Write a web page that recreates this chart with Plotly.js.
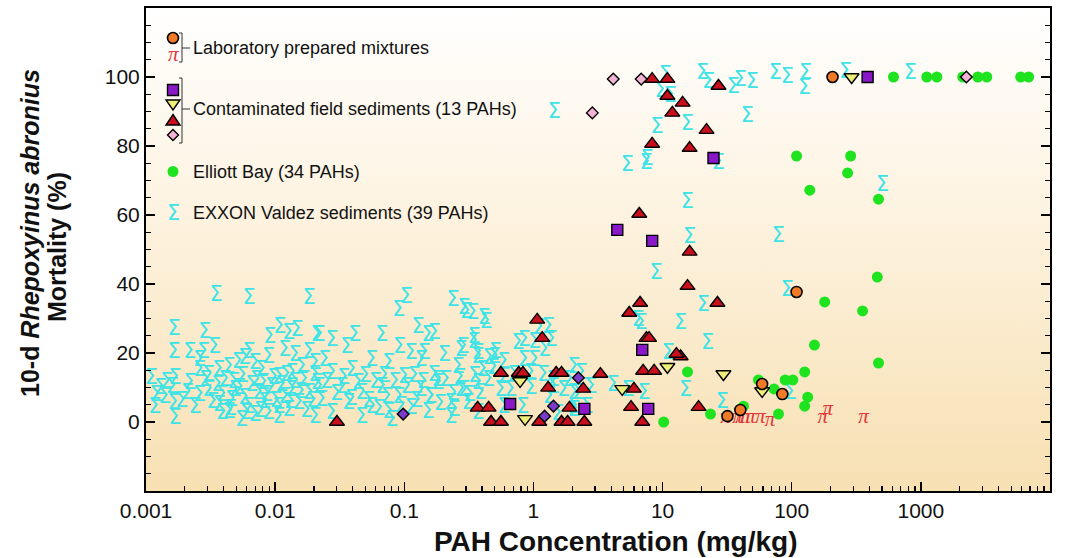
<!DOCTYPE html>
<html>
<head>
<meta charset="utf-8">
<script src="https://cdn.plot.ly/plotly-3.0.1.min.js"></script>
<style>html,body{margin:0;padding:0;background:#fff;}#chart{width:1079px;height:558px;}</style>
</head>
<body>
<div id="chart"></div>
<script>
// ---------------- DATA ----------------
// EXXON Valdez sediments (39 PAHs) - sigma symbols
const exxonX = [
 0.0035,0.0063,0.0183,0.00165,0.00286,0.0109,0.0128,0.0148,0.0091,0.0219,
 0.00165,0.00219,0.0028,0.0034,0.0063,0.0089,0.0119,0.0143,0.0183,0.0011,
 0.00145,0.00168,0.0026,0.0026,0.00307,0.00366,0.0044,0.0052,0.0058,0.0070,
 0.0079,0.0107,0.0135,0.0162,0.0204,0.0012,0.0014,0.00165,0.0021,0.0026,
 0.00307,0.0039,0.0037,0.0046,0.0049,0.0058,0.0063,0.0075,0.0083,0.0094,
 0.0107,0.0119,0.0135,0.0153,0.0183,0.0211,0.00117,0.00168,0.0039,0.0044,
 0.0055,0.0070,0.0089,0.0107,0.0128,
 0.0013,0.0016,0.0019,0.0022,0.0024,0.0029,0.0033,0.0036,0.0041,0.0045,
 0.0048,0.0053,0.0056,0.006,0.0066,0.0072,0.0077,0.0081,0.0086,0.0098,
 0.0102,0.0113,0.0122,0.0131,0.0142,0.0158,0.0168,0.0175,0.0195,0.0203,
 0.104,0.091,0.239,0.302,0.43,0.128,0.153,0.0211,0.0276,0.0415,
 0.067,0.036,0.056,0.092,0.113,0.204,0.286,0.347,0.373,0.0243,
 0.076,0.135,0.407,0.0276,0.0394,0.1,0.261,0.0219,0.033,0.047,
 0.067,0.091,0.135,0.183,0.291,0.373,0.023,0.037,0.056,0.076,
 0.113,0.153,0.23,0.312,0.080,0.047,0.0276,0.0204,0.23,0.373,
 0.025,0.03,0.034,0.039,0.044,0.05,0.053,0.06,0.064,0.07,
 0.074,0.085,0.095,0.105,0.12,0.125,0.14,0.16,0.17,0.19,
 0.21,0.24,0.27,0.32,0.35,
 0.291,0.34,0.415,0.347,0.276,0.373,0.453,0.51,0.49,0.59,
 0.71,0.85,1.02,1.11,1.31,0.67,0.83,0.96,1.43,1.71,
 2.07,2.35,2.07,1.33,0.59,0.39,0.276,0.243,0.183,0.16,
 0.143,0.171,0.5,0.76,0.85,1.02,1.22,1.38,2.07,1.9,
 1.43,2.23,2.07,0.56,0.59,0.45,5.42,4.15,6.47,7.2,
 2.6,2.8,1.55,1.2,0.95,
 10.5,9.75,11.5,20.4,22.7,35.4,40.1,49.6,74.7,92.5,
 128,126,45.4,9.08,15.6,7.6,5.33,261,831,505,
 15.6,16.2,78.8,8.92,92.5,20.7,13.8,6.83,22.3,11.1,
 15.1,29.1,97.5,1.45,27.1,7.47
];
const exxonY = [
 36.5,35.7,35.7,26.7,25.8,27.2,25.5,26.4,24.3,24.9,
 20,20,20,21.4,20,18.6,20.6,19.1,20,12.5,
 11.3,12.5,17.7,14.8,13.3,14.8,15.7,17.1,18.3,16.8,
 14.8,12.8,13.9,15.7,16.8,7.5,7,5.2,8.1,7.5,
 9,7.5,4.6,6.1,9,6.7,4.1,8.1,5.5,9.9,
 4.1,7,9,5.2,8.1,11,4.1,0.9,2.3,2.6,
 0.3,1.7,2.3,1.2,3.2,
 9.5,10,6,11,4,12,5.5,10.5,12,3.5,
 11.5,9.5,13,2.5,10.5,12,3,11,7.5,12.5,
 6,10.5,13.5,5.5,11.5,8.5,12,3,6,13.5,
 35.9,32.2,35.1,31.6,28.7,27.2,24.9,24.9,23.5,24.9,
 24.9,21.4,17.7,21.4,19.7,19.1,21.4,22.9,18.6,17.7,
 16.8,17.7,14.8,13.9,14.8,12.8,15.7,9.9,9.9,8.1,
 9.9,7,9,11,9,11,6.1,5.2,4.1,2.6,
 3.8,2.6,5.2,5.2,0.3,1.2,2.3,1.2,1.2,2.3,
 11.5,8,12.5,6.5,11,13,6,11.5,3.5,13,
 7,11.5,4.5,10,13,6,11.5,7,13.5,5,
 12,8,12.5,7.5,13,
 32.8,31.3,29.9,24.3,20.6,19.7,18.3,20,15.4,17.1,
 13.3,17.7,22.9,27,27.2,9,4.1,9.6,11.9,9,
 8.1,13.9,3.2,7,4.1,8.1,9,3.2,11.9,7,
 19.7,25.5,18.6,22.6,23.5,17.7,20.6,23.5,15.7,11.9,
 9.9,8.1,4.1,9,12.8,11.9,9,10.4,29.3,8.1,
 4,10,2,13.5,14,
 100.3,95.7,94.2,100.9,98.3,96.8,98.8,98.3,100.9,99.7,
 100.9,96.5,88.4,85.2,86.1,75.9,74.2,101.2,100.9,68.4,
 63.5,53.3,53.6,42.9,38,33.6,28.4,28.4,22.6,19.7,
 9.0,5.5,8.1,89.6,74.8,74.8
];

// Elliott Bay (34 PAHs)
const elliottX = [614,1112,1330,2110,2760,3240,5930,6830,109,286,
 271,138,470,460,180,354,150,470,15.6,126,
 55.2,89,102,73,133,126,42.3,79,23.5,10.2];
const elliottY = [100,100,100,100,100,100,100,100,77.1,77.1,
 72.2,67.2,64.6,42,34.8,32.2,22.3,17.1,14.5,14.5,
 12.2,12.2,12.2,9.6,7.2,4.6,4.6,2.3,2.3,0];

// Laboratory prepared mixtures
const labCircleX = [207,109,84.6,31.8,59,40];
const labCircleY = [100,37.7,8.1,1.7,11,3.5];
const labPiX = [30.7,38,40,43.8,47.9,57,68,174,190,360];
const labPiY = [1.2,1.2,1.2,1.2,1.2,1.2,0.3,1.2,3.5,1.2];

// Contaminated field sediments (13 PAHs)
const fieldSquareX = [387,24.8,4.46,8.31,6.96,7.74,0.66,2.48];
const fieldSquareY = [100,76.5,55.7,52.5,20.9,3.8,5.2,3.8];
const fieldTriDownX = [291,29.6,59,10.9,4.87,0.861,0.788];
const fieldTriDownY = [100,13.9,9.0,16,9.6,0.9,11.9];
const fieldTriUpX = [8.3,10.9,10.9,14.3,11.9,27.1,8.3,16.2,21.9,16.2,
 15.6,26.6,19,13.8,6.6,6.7,5.52,7.5,7.86,12.8,
 7.07,8.6,6.0,5.7,6.96,1.07,1.17,3.3,1.5,1.65,
 0.77,0.83,0.56,2.43,1.3,1.9,0.37,0.45,0.47,0.56,
 1.11,1.65,1.84,2.48,0.0301];
const fieldTriUpY = [99.4,99.4,94.5,92.5,89.6,97.4,80.6,79.4,84.6,49.3,
 39.4,34.5,4.3,19,60.3,34.5,31.6,24.3,24.3,19.7,
 14.8,14.8,9.6,4.3,0,29.6,24.3,13.9,14.2,14.2,
 14.2,14.2,14.2,9.6,9.9,4.1,4.1,4.1,0,0,
 0,0,0,0,0];
const fieldDiamondX = [4.15,6.83,2.86,2250];
const fieldDiamondY = [99.4,99.4,89.6,100];
const fieldVioletX = [2.23,1.43,1.22,0.098];
const fieldVioletY = [12.8,4.6,1.7,2.3];

const xTickVals = [0.001,0.01,0.1,1,10,100,1000,10000];
const xTickText = ['0.001','0.01','0.1','1','10','100','1000','10000'];
const yTickVals = [0,20,40,60,80,100];

const legendLabels = ['Laboratory prepared mixtures','Contaminated field sediments (13 PAHs)',
 'Elliott Bay (34 PAHs)','EXXON Valdez sediments (39 PAHs)'];

// ---------------- STYLE ----------------
const C = {
  cyan:'#3ee3e6', red:'#e2363a', green:'#1fe31f', orange:'#f07a28',
  tri:'#c8101c', square:'#8a18c8', triDown:'#eeee78', pink:'#f2b4d4', violet:'#7a3cc8'
};
const FONT = 'Arial, "Liberation Sans", sans-serif';
const SIGFONT = {family:'"DejaVu Sans", sans-serif', size:21, color:C.cyan};
const PIFONT = {family:'"Liberation Serif", "DejaVu Serif", serif', size:21, style:'italic', color:C.red};

const minorX = [];
for (let e=-3; e<4; e++) for (let m=2; m<=9; m++) minorX.push(m*Math.pow(10,e));

const edge = {color:'#000', width:1.4};
const traces = [
  {x:exxonX, y:exxonY, mode:'text', text:exxonX.map(()=> 'Σ'), textposition:'middle center',
   textfont:SIGFONT, hoverinfo:'skip'},
  {x:labPiX, y:labPiY, mode:'text', text:labPiX.map(()=> 'π'), textposition:'middle center',
   textfont:PIFONT, hoverinfo:'skip'},
  {x:elliottX, y:elliottY, mode:'markers', marker:{symbol:'circle', size:11, color:C.green}},
  {x:fieldTriUpX, y:fieldTriUpY, mode:'markers', marker:{symbol:'triangle-up', size:13, color:C.tri, line:edge}},
  {x:fieldVioletX, y:fieldVioletY, mode:'markers', marker:{symbol:'diamond', size:9, color:C.violet, line:edge}},
  {x:fieldSquareX, y:fieldSquareY, mode:'markers', marker:{symbol:'square', size:11, color:C.square, line:edge}},
  {x:fieldTriDownX, y:fieldTriDownY, mode:'markers', marker:{symbol:'triangle-down', size:13, color:C.triDown, line:edge}},
  {x:fieldDiamondX, y:fieldDiamondY, mode:'markers', marker:{symbol:'diamond', size:9, color:C.pink, line:edge}},
  {x:labCircleX, y:labCircleY, mode:'markers', marker:{symbol:'circle', size:11, color:C.orange, line:{color:'#000', width:1.6}}}
];

// plot frame in pixels
const L=146, R=1050, T=8, B=491;
const px = x => (x-L)/(R-L);
const py = y => (B-y)/(B-T);

const grad = '<svg xmlns="http://www.w3.org/2000/svg" width="100" height="100" viewBox="0 0 100 100" preserveAspectRatio="none">'+
 '<defs><linearGradient id="g" x1="0" y1="0" x2="0" y2="1">'+
 '<stop offset="0" stop-color="#ffffff"/><stop offset="0.45" stop-color="#fdf2de"/><stop offset="1" stop-color="#f7e0b2"/>'+
 '</linearGradient></defs><rect width="100" height="100" fill="url(#g)"/></svg>';

const shapes = [];
const line = (x0,y0,x1,y1) => shapes.push({type:'line', xref:'paper', yref:'paper',
  x0:px(x0), y0:py(y0), x1:px(x1), y1:py(y1), line:{color:'#333', width:1}});
const path = (pts, fill, lw) => shapes.push({type:'path', xref:'paper', yref:'paper',
  path: 'M'+pts.map(p=>px(p[0])+','+py(p[1])).join(' L')+' Z', fillcolor:fill, line:{color:'#000', width:lw===undefined?1.4:lw}});
// group 1 bracket
line(179,33,182,33); line(182,33,182,62); line(179,62,182,62); line(182,48,190,48);
// group 2 bracket
line(179,78,182,78); line(182,78,182,143); line(179,143,182,143); line(182,109,190,109);
// legend symbols
shapes.push({type:'circle', xref:'paper', yref:'paper', x0:px(167.5), x1:px(178.5), y0:py(43.5), y1:py(32.5), fillcolor:C.orange, line:{color:'#000', width:1.6}});
path([[167.5,84.5],[178.5,84.5],[178.5,95.5],[167.5,95.5]], C.square);
path([[166,100],[180,100],[173,110]], C.triDown);
path([[173,114.5],[180,125],[166,125]], C.tri);
path([[173,129.5],[178.5,135],[173,140.5],[167.5,135]], C.pink);
shapes.push({type:'circle', xref:'paper', yref:'paper', x0:px(167.5), x1:px(178.5), y0:py(177), y1:py(166), fillcolor:C.green, line:{width:0}});

const ann = [];
const legText = (t, y) => ann.push({xref:'paper', yref:'paper', x:px(191), y:py(y), xanchor:'left', yanchor:'middle',
  text:t, showarrow:false, font:{family:FONT, size:18, color:'#111'}});
legText(legendLabels[0], 48); legText(legendLabels[1], 109); legText(legendLabels[2], 172); legText(legendLabels[3], 213);
ann.push({xref:'paper', yref:'paper', x:px(173), y:py(54), text:'π', showarrow:false, xanchor:'center', yanchor:'middle',
  font:PIFONT});
ann.push({xref:'paper', yref:'paper', x:px(173), y:py(213), text:'Σ', showarrow:false, xanchor:'center', yanchor:'middle',
  font:SIGFONT});
// axis titles
ann.push({xref:'paper', yref:'paper', x:px(30), y:py(233), textangle:-90, showarrow:false, xanchor:'center', yanchor:'middle',
  text:'<b>10-d <i>Rhepoxyinus abronius</i></b>', font:{family:FONT, size:25, color:'#111'}});
ann.push({xref:'paper', yref:'paper', x:px(57), y:py(247), textangle:-90, showarrow:false, xanchor:'center', yanchor:'middle',
  text:'<b>Mortality (%)</b>', font:{family:FONT, size:25, color:'#111'}});
ann.push({xref:'paper', yref:'paper', x:px(615), y:py(541), showarrow:false, xanchor:'center', yanchor:'middle',
  text:'<b>PAH Concentration (mg/kg)</b>', font:{family:FONT, size:28, color:'#111'}});

const layout = {
  width:1079, height:558,
  margin:{l:L, r:1079-R, t:T, b:558-B, pad:0},
  paper_bgcolor:'#ffffff', plot_bgcolor:'rgba(0,0,0,0)',
  showlegend:false, hovermode:false,
  images:[{source:'data:image/svg+xml;charset=utf-8,'+encodeURIComponent(grad), xref:'paper', yref:'paper',
    x:0, y:1, sizex:1, sizey:1, sizing:'stretch', xanchor:'left', yanchor:'top', layer:'below'}],
  xaxis:{type:'log', range:[-3,4], tickmode:'array', tickvals:xTickVals, ticktext:xTickText,
    ticks:'inside', ticklen:9, tickwidth:1.5, tickcolor:'#000', showgrid:false, zeroline:false,
    showline:true, linecolor:'#000', linewidth:2, mirror:true,
    tickfont:{family:FONT, size:21, color:'#111'},
    minor:{tickmode:'array', tickvals:minorX, ticks:'inside', ticklen:5, tickwidth:1.2, tickcolor:'#000', showgrid:false}},
  yaxis:{range:[-20,120], tickmode:'array', tickvals:yTickVals,
    ticks:'inside', ticklen:9, tickwidth:1.5, tickcolor:'#000', showgrid:false, zeroline:false,
    showline:true, linecolor:'#000', linewidth:2, mirror:'allticks',
    tickfont:{family:FONT, size:21, color:'#111'},
    minor:{dtick:5, ticks:'inside', ticklen:5, tickwidth:1.2, tickcolor:'#000', showgrid:false}},
  shapes:shapes, annotations:ann
};
Plotly.newPlot('chart', traces, layout, {displayModeBar:false, staticPlot:true});
</script>
</body>
</html>
